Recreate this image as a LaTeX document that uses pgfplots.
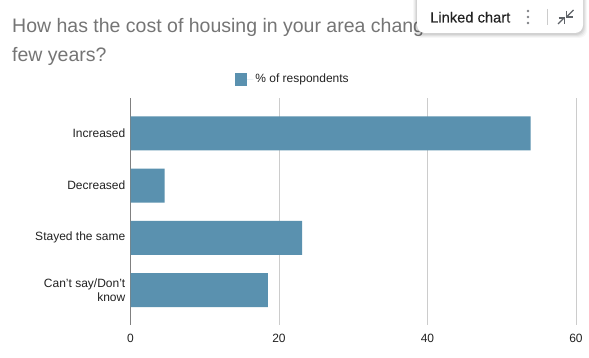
\documentclass[border=0pt]{standalone}
\usepackage{pgfplots}
\pgfplotsset{compat=1.18}
\usepackage{fontspec}
\setmainfont{Liberation Sans}
\newfontface\med[FakeBold=0.15]{Liberation Sans}
\definecolor{barblue}{RGB}{90,145,175}
\definecolor{titlegray}{RGB}{117,117,117}
\definecolor{gridgray}{RGB}{204,204,204}
\definecolor{axisgray}{RGB}{128,128,128}
\definecolor{txt}{RGB}{34,34,34}
\definecolor{iconcol}{RGB}{95,99,104}
\newcommand{\fs}[1]{\fontsize{#1}{14}\selectfont}
\begin{document}
\begin{tikzpicture}[x=1pt,y=1pt]
\useasboundingbox (0,0) rectangle (589,357);
\fill[white] (0,0) rectangle (589,357);
\begin{axis}[
  at={(130.5pt,32pt)}, anchor=south west,
  scale only axis, width=445.5pt, height=227pt,
  xmin=0, xmax=60, ymin=-0.68, ymax=3.669, y dir=reverse,
  xbar, bar width=34pt,
  xtick={0,20,40,60},
  ytick={0,1,2,3},
  yticklabels={Increased,Decreased,Stayed the same,{Can't say/Don't\\know}},
  yticklabel style={align=right, font=\fs{12}\color{txt}, inner xsep=0pt, xshift=-5pt},
  xticklabel style={font=\fs{12}\color{txt}, /pgf/number format/assume math mode=true, yshift=-6pt},
  major tick length=0pt,
  xmajorgrids, grid style={gridgray, line width=0.9pt},
  axis x line*=bottom, axis y line*=left,
  x axis line style={draw=none},
  y axis line style={draw=axisgray, line width=1.5pt},
  axis line style={-},
  legend style={at={(0.2349,1.0837)}, anchor=west, draw=none, fill=none, inner sep=0pt,
    font=\fs{12}\color{txt}, legend cell align=left},
  legend image code/.code={\fill[barblue] (0pt,-6.5pt) rectangle (12pt,6pt);\path (0pt,0pt) -- (18pt,0pt);},
]
\addplot[fill=barblue, draw=none] coordinates {(53.9,0) (4.6,1) (23.1,2) (18.5,3)};
\addlegendentry{\% of respondents}
\end{axis}
\node[anchor=base west, inner sep=0pt, text=titlegray, font=\fs{19.5}] at (12,324) {How has the cost of housing in your area chang};
\node[anchor=base west, inner sep=0pt, text=titlegray, font=\fs{19.5}] at (12,295.5) {few years?};
% popup with shadow
\begin{scope}
\clip (0,0) rectangle (589,357);
\foreach \g/\o in {4/0.03,3/0.04,2/0.05,1/0.06}{
  \fill[black, opacity=\o, rounded corners=8pt] (417-\g,323-\g) rectangle (583+\g,370);
}
\fill[white, rounded corners=8pt] (417,324) rectangle (583,370);
\end{scope}
\node[anchor=base west, inner sep=0pt, text=txt, font=\fs{14.7}\med] at (430,334.5) {Linked chart};
\foreach \y in {346,340,334}{\fill[iconcol!80] (528,\y) circle (1.4);}
\draw[gridgray, line width=0.8pt] (547,348) -- (547,332);
\begin{scope}[iconcol, line width=1.3pt]
\draw (573.5,347) -- (567,340.5);
\draw (566.5,346) -- (566.5,340) -- (572.5,340);
\draw (558,333) -- (564.5,339.5);
\draw (558.5,339) -- (564.5,339) -- (564.5,333);
\end{scope}
\end{tikzpicture}
\end{document}
